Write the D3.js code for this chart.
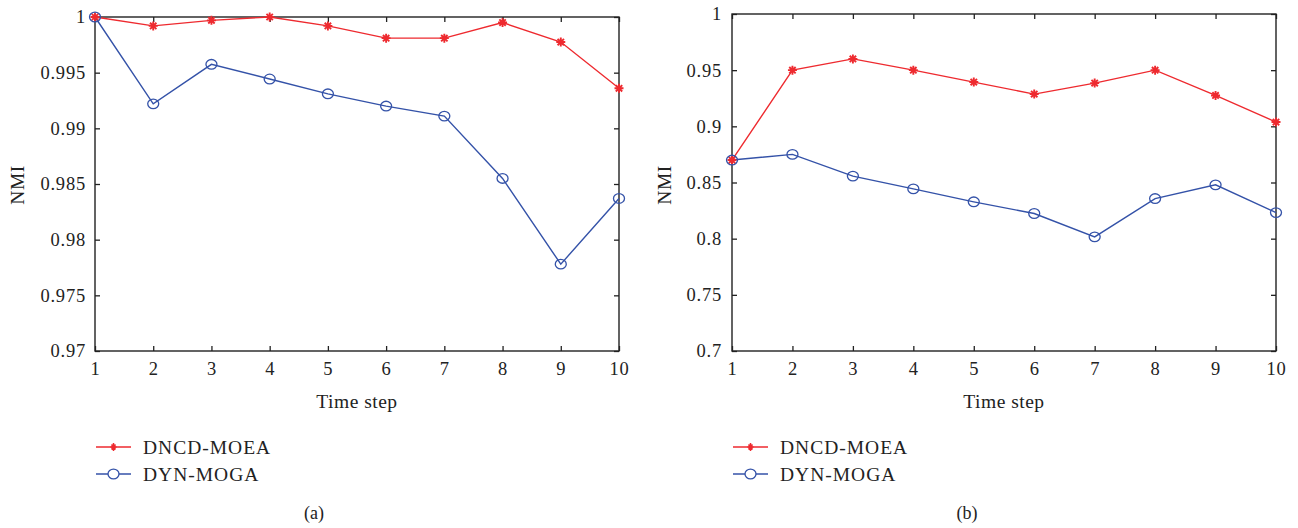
<!DOCTYPE html>
<html>
<head>
<meta charset="utf-8">
<script src="https://cdn.jsdelivr.net/npm/d3@7"></script>
<style>
  body { margin: 0; background: #fff; }
  text { font-family: "Liberation Serif", "Times New Roman", serif; fill: #222; }
</style>
</head>
<body>
<div id="chart"></div>
<script>
var steps = [1, 2, 3, 4, 5, 6, 7, 8, 9, 10];
var seriesNames = ["DNCD-MOEA", "DYN-MOGA"];

// panel (a)
var dncdA = [1.0, 0.9992, 0.9997, 1.0, 0.9992, 0.9981, 0.9981, 0.9995, 0.99775, 0.9936];
var dynA  = [1.0, 0.9922, 0.99575, 0.99443, 0.9931, 0.9920, 0.9911, 0.9855, 0.9778, 0.9837];
var yTicksA = [0.97, 0.975, 0.98, 0.985, 0.99, 0.995, 1];
var yLabelsA = ["0.97", "0.975", "0.98", "0.985", "0.99", "0.995", "1"];

// panel (b)
var dncdB = [0.870, 0.950, 0.960, 0.950, 0.9394, 0.9287, 0.9385, 0.950, 0.9275, 0.9038];
var dynB  = [0.870, 0.875, 0.8557, 0.8443, 0.8328, 0.8224, 0.8016, 0.8357, 0.8479, 0.8232];
var yTicksB = [0.7, 0.75, 0.8, 0.85, 0.9, 0.95, 1];
var yLabelsB = ["0.7", "0.75", "0.8", "0.85", "0.9", "0.95", "1"];

var red = "#ee2a2f";
var blue = "#3452a8";

var svg = d3.select("#chart")
  .append("svg")
  .attr("width", 1298)
  .attr("height", 528);

var star = "M-4.5,0H4.5M0,-4.5V4.5M-3.2,-3.2L3.2,3.2M-3.2,3.2L3.2,-3.2";

function panel(box, dncd, dyn, yTicks, yLabels, caption) {
  var x = d3.scaleLinear().domain([1, 10]).range([box.left, box.right]);
  var y = d3.scaleLinear().domain([yTicks[0], yTicks[yTicks.length - 1]]).range([box.bottom, box.top]);

  var g = svg.append("g");

  // axes with inward ticks
  var bottom = g.append("g")
    .attr("transform", "translate(0," + box.bottom + ")")
    .call(d3.axisBottom(x).tickValues(steps).tickFormat(d3.format("d")).tickSize(-5).tickPadding(11));
  var left = g.append("g")
    .attr("transform", "translate(" + box.left + ",0)")
    .call(d3.axisLeft(y).tickValues(yTicks).tickFormat(function(d, i) { return yLabels[i]; }).tickSize(-5).tickPadding(box.pad));
  var top = g.append("g")
    .attr("transform", "translate(0," + box.top + ")")
    .call(d3.axisTop(x).tickValues(steps).tickFormat("").tickSize(-5));
  var right = g.append("g")
    .attr("transform", "translate(" + box.right + ",0)")
    .call(d3.axisRight(y).tickValues(yTicks).tickFormat("").tickSize(-5));

  [bottom, left, top, right].forEach(function(a) {
    a.attr("font-family", null);
    a.select(".domain").remove();
    a.selectAll(".tick line").attr("stroke", "#222").attr("stroke-width", 1.3);
    a.selectAll(".tick text")
      .attr("fill", "#222")
      .style("font-size", "18.5px")
      .style("letter-spacing", "0.8px")
      .style("font-family", "'Liberation Serif', serif");
  });

  g.append("rect")
    .attr("x", box.left)
    .attr("y", box.top)
    .attr("width", box.right - box.left)
    .attr("height", box.bottom - box.top)
    .attr("fill", "none")
    .attr("stroke", "#222")
    .attr("stroke-width", 1.4);

  var line = d3.line()
    .x(function(d, i) { return x(steps[i]); })
    .y(function(d) { return y(d); });

  g.append("path")
    .datum(dncd)
    .attr("fill", "none")
    .attr("stroke", red)
    .attr("stroke-width", 1.4)
    .attr("d", line);

  g.append("path")
    .datum(dyn)
    .attr("fill", "none")
    .attr("stroke", blue)
    .attr("stroke-width", 1.4)
    .attr("d", line);

  g.selectAll(".star")
    .data(dncd)
    .enter()
    .append("path")
    .attr("transform", function(d, i) { return "translate(" + x(steps[i]) + "," + y(d) + ")"; })
    .attr("d", star)
    .attr("stroke", red)
    .attr("stroke-width", 1.9)
    .attr("fill", "none");

  g.selectAll(".ring")
    .data(dyn)
    .enter()
    .append("ellipse")
    .attr("cx", function(d, i) { return x(steps[i]); })
    .attr("cy", function(d) { return y(d); })
    .attr("rx", 5.5)
    .attr("ry", 4.8)
    .attr("fill", "none")
    .attr("stroke", blue)
    .attr("stroke-width", 1.3);

  // axis titles
  g.append("text")
    .attr("x", (box.left + box.right) / 2)
    .attr("y", 408)
    .attr("text-anchor", "middle")
    .style("font-size", "19.5px")
    .style("letter-spacing", "0.5px")
    .text("Time step");

  g.append("text")
    .attr("transform", "translate(" + box.ylab + ",185) rotate(-90)")
    .attr("text-anchor", "middle")
    .style("font-size", "19.5px")
    .style("letter-spacing", "0.5px")
    .text("NMI");

  // legend
  var colors = [red, blue];
  seriesNames.forEach(function(name, i) {
    var ly = 447 + i * 27;
    g.append("line")
      .attr("x1", box.legX)
      .attr("x2", box.legX + 35)
      .attr("y1", ly)
      .attr("y2", ly)
      .attr("stroke", colors[i])
      .attr("stroke-width", 1.4);
    if (i === 0) {
      g.append("path")
        .attr("transform", "translate(" + (box.legX + 17.5) + "," + ly + ")")
        .attr("d", "M-3,0H3M0,-4V4M-2,-2.5L2,2.5M-2,2.5L2,-2.5")
        .attr("stroke", red)
        .attr("stroke-width", 1.5);
    } else {
      g.append("ellipse")
        .attr("cx", box.legX + 17.5)
        .attr("cy", ly)
        .attr("rx", 5.5)
        .attr("ry", 4.8)
        .attr("fill", "#fff")
        .attr("stroke", blue)
        .attr("stroke-width", 1.3);
    }
    g.append("text")
      .attr("x", box.legX + 47)
      .attr("y", ly + 6.5)
      .style("font-size", "19.5px")
      .style("letter-spacing", "1px")
      .text(name);
  });

  g.append("text")
    .attr("x", box.capX)
    .attr("y", 519)
    .attr("text-anchor", "middle")
    .style("font-size", "18px")
    .text(caption);
}

panel({left: 95, right: 619, top: 17, bottom: 351, pad: 9, ylab: 24, legX: 96, capX: 314},
      dncdA, dynA, yTicksA, yLabelsA, "(a)");
panel({left: 732, right: 1276, top: 14, bottom: 351, pad: 10, ylab: 671, legX: 733, capX: 967},
      dncdB, dynB, yTicksB, yLabelsB, "(b)");
</script>
</body>
</html>
